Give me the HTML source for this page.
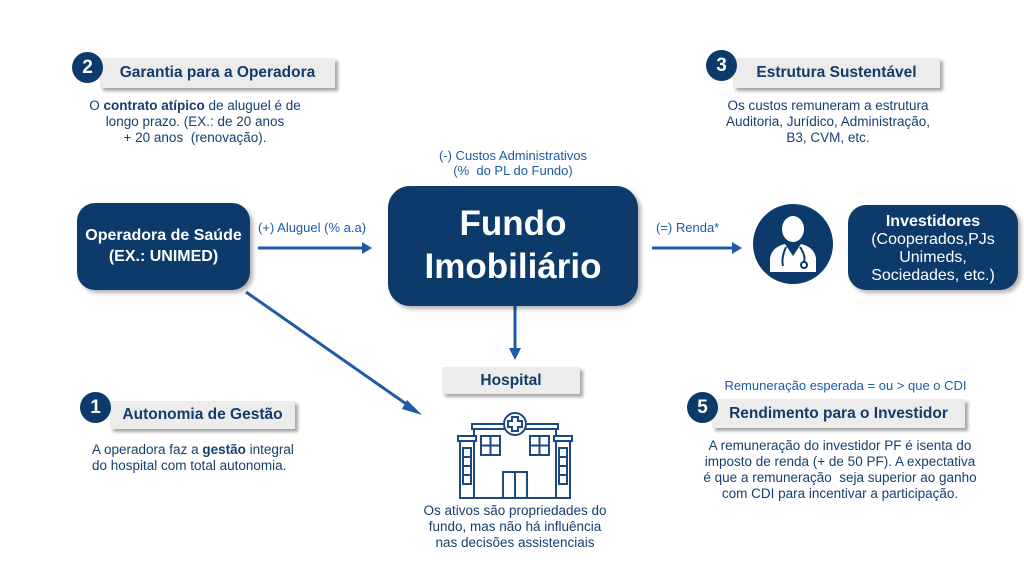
<!DOCTYPE html>
<html><head><meta charset="utf-8"><style>
*{margin:0;padding:0;box-sizing:border-box}
body{width:1024px;height:576px;background:#fff;position:relative;overflow:hidden;font-family:"Liberation Sans",sans-serif;color:#173f6e}
.a{position:absolute}
.navy{background:#0c3a6a;color:#fff;text-align:center;font-weight:bold}
.lbl{position:absolute;background:#ececec;box-shadow:3px 3px 3px rgba(0,0,0,.35);color:#123c6b;font-weight:bold;font-size:15.5px;display:flex;align-items:center;justify-content:center}
.num{position:absolute;width:31px;height:31px;border-radius:50%;background:#0c3a6a;color:#fff;font-weight:bold;font-size:19px;display:flex;align-items:center;justify-content:center;z-index:2}
.t{position:absolute;font-size:13.5px;line-height:16px;text-align:center;color:#173f6e}
.b{color:#1f5aa6;font-size:13px;position:absolute}
</style></head><body>
<svg class="a" style="left:0;top:0" width="1024" height="576">
<g stroke="#1f5aa6" stroke-width="3" fill="none">
<line x1="258" y1="248" x2="364" y2="248"/><path d="M362,242 L372,248 L362,254z" fill="#1f5aa6" stroke="none"/>
<line x1="652" y1="248" x2="734" y2="248"/><path d="M732,242 L742,248 L732,254z" fill="#1f5aa6" stroke="none"/>
<line x1="515" y1="306" x2="515" y2="350"/><path d="M509,348 L515,360 L521,348z" fill="#1f5aa6" stroke="none"/>
<line x1="246" y1="292" x2="412" y2="408"/><path d="M407,400 L422,415 L402,409z" fill="#1f5aa6" stroke="none"/>
</g>
<g stroke="#1d4a7e" stroke-width="2" fill="#fff">
<rect x="474" y="427" width="82" height="71"/>
<rect x="460" y="440" width="14" height="58"/><rect x="556" y="440" width="14" height="58"/>
<rect x="458" y="436" width="18" height="5"/><rect x="554" y="436" width="18" height="5"/>
<rect x="472" y="424" width="86" height="5"/>
<circle cx="515" cy="424" r="11"/>
<path d="M512,417h6v4h4v6h-4v4h-6v-4h-4v-6h4z"/>
<rect x="481" y="436" width="19" height="19"/><rect x="530" y="436" width="19" height="19"/>
<line x1="490.5" y1="436" x2="490.5" y2="455"/><line x1="481" y1="445.5" x2="500" y2="445.5"/>
<line x1="539.5" y1="436" x2="539.5" y2="455"/><line x1="530" y1="445.5" x2="549" y2="445.5"/>
<rect x="503" y="472" width="24" height="26"/><line x1="515" y1="472" x2="515" y2="498"/>
<rect x="463" y="448" width="8" height="36"/><rect x="559" y="448" width="8" height="36"/>
<line x1="463" y1="457" x2="471" y2="457"/><line x1="463" y1="466" x2="471" y2="466"/><line x1="463" y1="475" x2="471" y2="475"/>
<line x1="559" y1="457" x2="567" y2="457"/><line x1="559" y1="466" x2="567" y2="466"/><line x1="559" y1="475" x2="567" y2="475"/>
</g>
<circle cx="793" cy="244" r="40" fill="#0c3a6a"/>
<g fill="#fff"><ellipse cx="793" cy="229" rx="11" ry="13"/>
<path d="M770,272 L770,258 Q772,247 785,244 L793,256 L801,244 Q814,247 816,258 L816,272z"/></g>
<g stroke="#0c3a6a" stroke-width="2" fill="none"><path d="M786,247 Q781,258 783,266"/><path d="M800,247 Q806,256 804,262"/><circle cx="804" cy="265" r="3"/></g>
</svg>
<div class="num" style="left:72px;top:52px">2</div>
<div class="lbl" style="left:100px;top:58px;width:235px;height:30px">Garantia para a Operadora</div>
<div class="t" style="left:80px;top:98px;width:230px">O <b>contrato atípico</b> de aluguel é de<br>longo prazo. (EX.: de 20 anos<br>+ 20 anos &nbsp;(renovação).</div>
<div class="num" style="left:706px;top:50px">3</div>
<div class="lbl" style="left:733px;top:58px;width:207px;height:30px">Estrutura Sustentável</div>
<div class="t" style="left:705px;top:98px;width:246px">Os custos remuneram a estrutura<br>Auditoria, Jurídico, Administração,<br>B3, CVM, etc.</div>
<div class="b" style="left:413px;top:148px;width:200px;text-align:center;line-height:15px">(-) Custos Administrativos<br>(% &nbsp;do PL do Fundo)</div>
<div class="a navy" style="left:388px;top:186px;width:250px;height:120px;border-radius:22px;box-shadow:3px 3px 4px rgba(0,0,0,.3);font-size:35px;line-height:43px;padding-top:16px;font-weight:bold">Fundo<br>Imobiliário</div>
<div class="a navy" style="left:77px;top:203px;width:173px;height:87px;border-radius:18px;box-shadow:3px 3px 4px rgba(0,0,0,.3);font-size:16px;line-height:21px;padding-top:22px">Operadora de Saúde<br>(EX.: UNIMED)</div>
<div class="b" style="left:258px;top:220px">(+) Aluguel (% a.a)</div>
<div class="b" style="left:656px;top:220px">(=) Renda*</div>
<div class="a navy" style="left:848px;top:205px;width:170px;height:85px;border-radius:18px;box-shadow:3px 3px 4px rgba(0,0,0,.3);font-size:16px;line-height:18px;padding-top:8px;font-weight:normal"><b>Investidores</b><br>(Cooperados,PJs<br>Unimeds,<br>Sociedades, etc.)</div>
<div class="lbl" style="left:442px;top:367px;width:138px;height:27px">Hospital</div>
<div class="t" style="left:410px;top:503px;width:210px">Os ativos são propriedades do<br>fundo, mas não há influência<br>nas decisões assistenciais</div>
<div class="num" style="left:80px;top:392px">1</div>
<div class="lbl" style="left:110px;top:401px;width:185px;height:28px">Autonomia de Gestão</div>
<div class="t" style="left:92px;top:442px;width:220px;text-align:left">A operadora faz a <b>gestão</b> integral<br>do hospital com total autonomia.</div>
<div class="b" style="left:723px;top:378px;width:245px;text-align:center">Remuneração esperada = ou &gt; que o CDI</div>
<div class="num" style="left:687px;top:392px">5</div>
<div class="lbl" style="left:712px;top:399px;width:253px;height:29px">Rendimento para o Investidor</div>
<div class="t" style="left:700px;top:438px;width:280px">A remuneração do investidor PF é isenta do<br>imposto de renda (+ de 50 PF). A expectativa<br>é que a remuneração &nbsp;seja superior ao ganho<br>com CDI para incentivar a participação.</div>
</body></html>
